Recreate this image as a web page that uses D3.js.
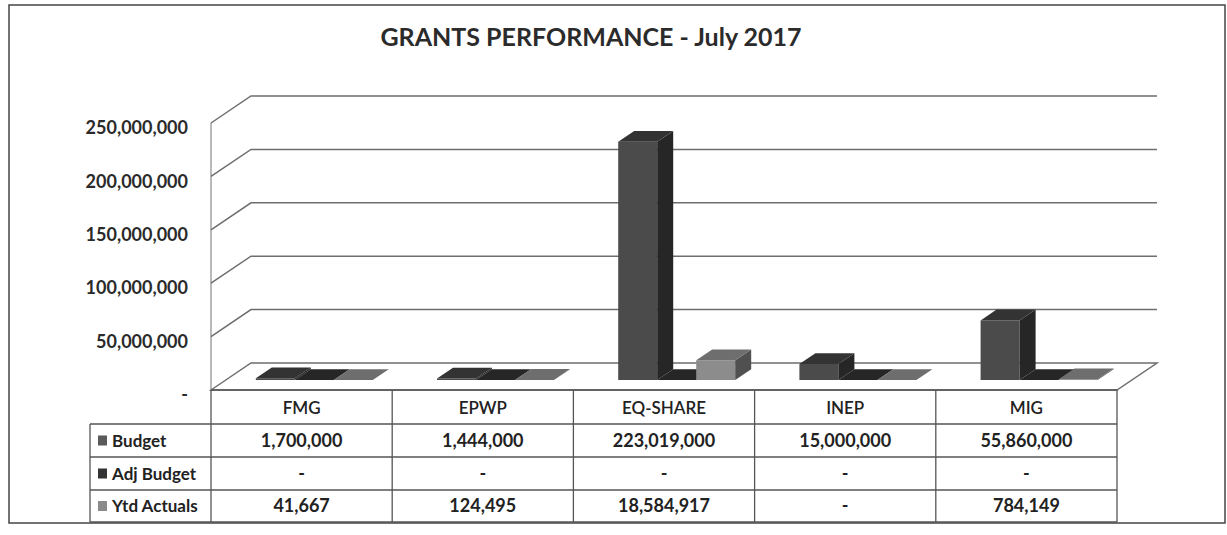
<!DOCTYPE html>
<html>
<head>
<meta charset="utf-8">
<script src="https://cdn.jsdelivr.net/npm/d3@7"></script>
<style>
  body { margin: 0; background: #fff; }
  svg { display: block; font-family: Lato, "Open Sans", sans-serif; }
</style>
</head>
<body>
<div id="chart"></div>
<script>
// data
var categories = ["FMG", "EPWP", "EQ-SHARE", "INEP", "MIG"];
var seriesNames = ["Budget", "Adj Budget", "Ytd Actuals"];
var budget     = [1700000, 1444000, 223019000, 15000000, 55860000];
var adjBudget  = [0, 0, 0, 0, 0];
var ytdActuals = [41667, 124495, 18584917, 0, 784149];
var yTicks = [0, 50000000, 100000000, 150000000, 200000000, 250000000];
var title = "GRANTS PERFORMANCE - July 2017";

var seriesValues = [budget, adjBudget, ytdActuals];

// colours per series: front, side, top, legend key
var colors = [
  {front: "#4b4b4b", side: "#262626", top: "#333333", key: "#5a5a5a"},
  {front: "#2e2e2e", side: "#1c1c1c", top: "#262626", key: "#333333"},
  {front: "#8c8c8c", side: "#505050", top: "#6e6e6e", key: "#8a8a8a"}
];

var W = 1227, H = 535;

// front plane of the 3d box, depth offset to the back wall
var plot = {left: 211, right: 1117, bottom: 390, top: 123};
var depth = {dx: 40, dy: -27};

var svg = d3.select("#chart").append("svg")
  .attr("width", W)
  .attr("height", H);

// outer frame
svg.append("rect")
  .attr("x", 9).attr("y", 5)
  .attr("width", 1216).attr("height", 518)
  .attr("fill", "#fff")
  .attr("stroke", "#444")
  .attr("stroke-width", 1.5);

// title
svg.append("text")
  .attr("x", 591).attr("y", 46)
  .attr("text-anchor", "middle")
  .attr("font-size", 25)
  .attr("font-weight", "bold")
  .attr("fill", "#2b2b2b")
  .text(title);

var x = d3.scaleBand()
  .domain(categories)
  .range([plot.left, plot.right]);

var xs = d3.scaleBand()
  .domain(seriesNames)
  .range([30, 30 + 117]);

var y = d3.scaleLinear()
  .domain([0, 250000000])
  .range([plot.bottom, plot.top]);

// project a point on the front plane to a given depth (0 front .. 1 back)
function P(px, py, d) {
  return [px + d * depth.dx, py + d * depth.dy];
}
function poly(pts) {
  return pts.map(function(p) { return p[0].toFixed(1) + "," + p[1].toFixed(1); }).join(" ");
}

var grid = svg.append("g");

// left wall front edge
grid.append("line")
  .attr("x1", plot.left).attr("x2", plot.left)
  .attr("y1", y(0)).attr("y2", y(250000000))
  .attr("stroke", "#8a8a8a").attr("stroke-width", 1.2);

// gridlines on left wall + back wall
grid.selectAll("polyline.grid")
  .data(yTicks.filter(function(d) { return d > 0; }))
  .enter()
  .append("polyline")
    .attr("class", "grid")
    .attr("points", function(d) {
      return poly([[plot.left, y(d)], P(plot.left, y(d), 1), P(plot.right, y(d), 1)]);
    })
    .attr("fill", "none")
    .attr("stroke", "#6e6e6e")
    .attr("stroke-width", 1.5);

// floor
grid.append("polygon")
  .attr("points", poly([[plot.left, y(0)], P(plot.left, y(0), 1), P(plot.right, y(0), 1), [plot.right, y(0)]]))
  .attr("fill", "#fff")
  .attr("stroke", "#6e6e6e")
  .attr("stroke-width", 1.5);

// y axis labels
var yAxis = svg.append("g")
  .attr("transform", "translate(188,5)")
  .call(d3.axisLeft(y)
    .tickValues(yTicks)
    .tickSize(0)
    .tickPadding(0)
    .tickFormat(function(d) { return d === 0 ? "-" : d3.format(",")(d); }));
yAxis.select(".domain").remove();
yAxis.selectAll("text")
  .attr("font-family", "Lato, sans-serif")
  .attr("font-size", 18)
  .attr("font-weight", "bold")
  .attr("fill", "#2a2a2a");

// bars
var bars = [];
categories.forEach(function(c, i) {
  seriesNames.forEach(function(s, j) {
    bars.push({cat: c, series: s, si: j, value: seriesValues[j][i]});
  });
});

var d0 = 0.37, d1 = 0.77;

var barG = svg.append("g").selectAll("g.bar")
  .data(bars)
  .enter()
  .append("g")
    .attr("class", "bar");

barG.each(function(d) {
  var g = d3.select(this);
  var x0 = x(d.cat) + xs(d.series);
  var x1 = x0 + xs.bandwidth();
  var yb = y(0), yt = y(d.value);
  var col = colors[d.si];
  // front face
  g.append("polygon")
    .attr("points", poly([P(x0, yb, d0), P(x1, yb, d0), P(x1, yt, d0), P(x0, yt, d0)]))
    .attr("fill", col.front);
  // side face
  g.append("polygon")
    .attr("points", poly([P(x1, yb, d0), P(x1, yb, d1), P(x1, yt, d1), P(x1, yt, d0)]))
    .attr("fill", col.side);
  // top face
  g.append("polygon")
    .attr("points", poly([P(x0, yt, d0), P(x1, yt, d0), P(x1, yt, d1), P(x0, yt, d1)]))
    .attr("fill", col.top);
});

// data table
var rowTop = [390, 424, 457, 490, 522];
var labelLeft = 90;
var tbl = svg.append("g")
  .attr("font-family", "Lato, sans-serif")
  .attr("font-weight", "bold")
  .attr("font-size", 18)
  .attr("fill", "#222");

var lineColor = "#555";

// horizontal lines
tbl.append("line")
  .attr("x1", plot.left).attr("x2", plot.right)
  .attr("y1", rowTop[0]).attr("y2", rowTop[0])
  .attr("stroke", lineColor).attr("stroke-width", 1.3);
rowTop.slice(1).forEach(function(r) {
  tbl.append("line")
    .attr("x1", labelLeft).attr("x2", plot.right)
    .attr("y1", r).attr("y2", r)
    .attr("stroke", lineColor).attr("stroke-width", 1.3);
});
// vertical lines
tbl.append("line")
  .attr("x1", labelLeft).attr("x2", labelLeft)
  .attr("y1", rowTop[1]).attr("y2", rowTop[4])
  .attr("stroke", lineColor).attr("stroke-width", 1.3);
categories.concat(["_end"]).forEach(function(c) {
  var xx = c === "_end" ? plot.right : x(c);
  tbl.append("line")
    .attr("x1", xx).attr("x2", xx)
    .attr("y1", rowTop[0]).attr("y2", rowTop[4])
    .attr("stroke", lineColor).attr("stroke-width", 1.3);
});

// category header
tbl.selectAll("text.cat")
  .data(categories)
  .enter()
  .append("text")
    .attr("class", "cat")
    .attr("x", function(d) { return x(d) + x.bandwidth() / 2; })
    .attr("y", (rowTop[0] + rowTop[1]) / 2 + 7)
    .attr("text-anchor", "middle")
    .attr("font-weight", 600)
    .attr("font-size", 17)
    .text(function(d) { return d; });

// rows
seriesNames.forEach(function(s, j) {
  var cy = (rowTop[j + 1] + rowTop[j + 2]) / 2;
  tbl.append("rect")
    .attr("x", 98).attr("y", cy - 5)
    .attr("width", 9).attr("height", 10)
    .attr("fill", colors[j].key);
  tbl.append("text")
    .attr("x", 112).attr("y", cy + 6)
    .attr("font-size", 17)
    .text(s);
  tbl.selectAll("text.v" + j)
    .data(seriesValues[j])
    .enter()
    .append("text")
      .attr("class", "v" + j)
      .attr("x", function(d, i) { return x(categories[i]) + x.bandwidth() / 2; })
      .attr("y", cy + 6)
      .attr("text-anchor", "middle")
      .text(function(d) { return d === 0 ? "-" : d3.format(",")(d); });
});
</script>
</body>
</html>
